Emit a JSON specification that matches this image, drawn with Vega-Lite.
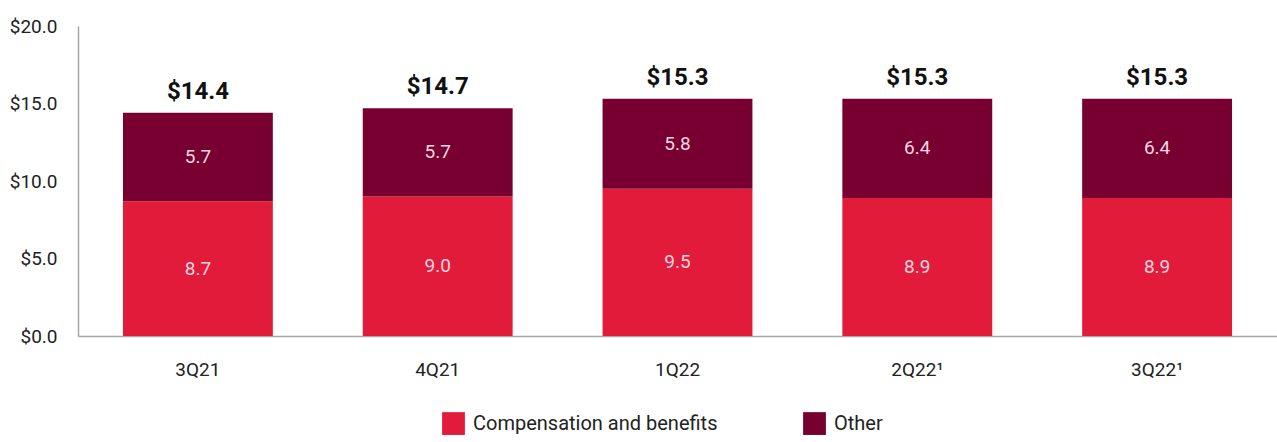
{
  "$schema": "https://vega.github.io/schema/vega-lite/v6.json",
  "width": 1199,
  "height": 310,
  "autosize": {"type": "none"},
  "padding": {"left": 78, "top": 26, "right": 0, "bottom": 106},
  "config": {"view": {"stroke": null}, "font": "Roboto"},
  "datasets": {
    "segments": [
      {"quarter": "3Q21", "series": "Compensation and benefits", "value": 8.7},
      {"quarter": "3Q21", "series": "Other", "value": 5.7},
      {"quarter": "4Q21", "series": "Compensation and benefits", "value": 9.0},
      {"quarter": "4Q21", "series": "Other", "value": 5.7},
      {"quarter": "1Q22", "series": "Compensation and benefits", "value": 9.5},
      {"quarter": "1Q22", "series": "Other", "value": 5.8},
      {"quarter": "2Q22¹", "series": "Compensation and benefits", "value": 8.9},
      {"quarter": "2Q22¹", "series": "Other", "value": 6.4},
      {"quarter": "3Q22¹", "series": "Compensation and benefits", "value": 8.9},
      {"quarter": "3Q22¹", "series": "Other", "value": 6.4}
    ],
    "totals": [
      {"quarter": "3Q21", "total": 14.4},
      {"quarter": "4Q21", "total": 14.7},
      {"quarter": "1Q22", "total": 15.3},
      {"quarter": "2Q22¹", "total": 15.3},
      {"quarter": "3Q22¹", "total": 15.3}
    ]
  },
  "layer": [
    {
      "data": {"name": "segments"},
      "transform": [
        {"stack": "value", "groupby": ["quarter"], "sort": [{"field": "series", "order": "ascending"}], "as": ["y0", "y1"]}
      ],
      "layer": [
        {
          "mark": {"type": "bar"},
          "encoding": {
            "x": {
              "field": "quarter", "type": "nominal",
              "sort": ["3Q21", "4Q21", "1Q22", "2Q22¹", "3Q22¹"],
              "scale": {"paddingInner": 0.375, "paddingOuter": 0.1875},
              "title": null,
              "axis": {"labelAngle": 0, "ticks": false, "domainColor": "#a6a6a6", "domainWidth": 1.5, "labelFontSize": 19, "labelPadding": 24, "labelColor": "#222222"}
            },
            "y": {
              "field": "y0", "type": "quantitative",
              "scale": {"domain": [0, 20], "nice": false},
              "title": null,
              "axis": {"values": [0, 5, 10, 15, 20], "format": "$.1f", "grid": false, "ticks": false, "domainColor": "#a6a6a6", "domainWidth": 1.5, "labelFontSize": 19, "labelPadding": 21, "labelColor": "#222222"}
            },
            "y2": {"field": "y1"},
            "color": {
              "field": "series", "type": "nominal",
              "scale": {"domain": ["Compensation and benefits", "Other"], "range": ["#e31b3a", "#780030"]},
              "legend": {
                "title": null, "orient": "none", "direction": "horizontal",
                "legendX": 364, "legendY": 386,
                "symbolType": "square", "symbolSize": 520, "symbolStrokeWidth": 0,
                "labelFontSize": 20, "labelOffset": 8, "columnPadding": 85, "labelLimit": 400, "labelColor": "#222222"
              }
            }
          }
        },
        {
          "transform": [
            {"fold": ["y0", "y1"], "as": ["edge", "pos"]},
            {"aggregate": [{"op": "mean", "field": "pos", "as": "mid"}], "groupby": ["quarter", "series", "value"]}
          ],
          "mark": {"type": "text", "fontSize": 19, "color": "#f6d6e2", "baseline": "middle"},
          "encoding": {
            "x": {"field": "quarter", "type": "nominal", "sort": ["3Q21", "4Q21", "1Q22", "2Q22¹", "3Q22¹"]},
            "y": {"field": "mid", "type": "quantitative"},
            "text": {"field": "value", "type": "quantitative", "format": ".1f"}
          }
        }
      ]
    },
    {
      "data": {"name": "totals"},
      "mark": {"type": "text", "fontSize": 24, "fontWeight": "bold", "color": "#111111", "baseline": "alphabetic", "dy": -14},
      "encoding": {
        "x": {"field": "quarter", "type": "nominal", "sort": ["3Q21", "4Q21", "1Q22", "2Q22¹", "3Q22¹"]},
        "y": {"field": "total", "type": "quantitative"},
        "text": {"field": "total", "type": "quantitative", "format": "$.1f"}
      }
    }
  ]
}
